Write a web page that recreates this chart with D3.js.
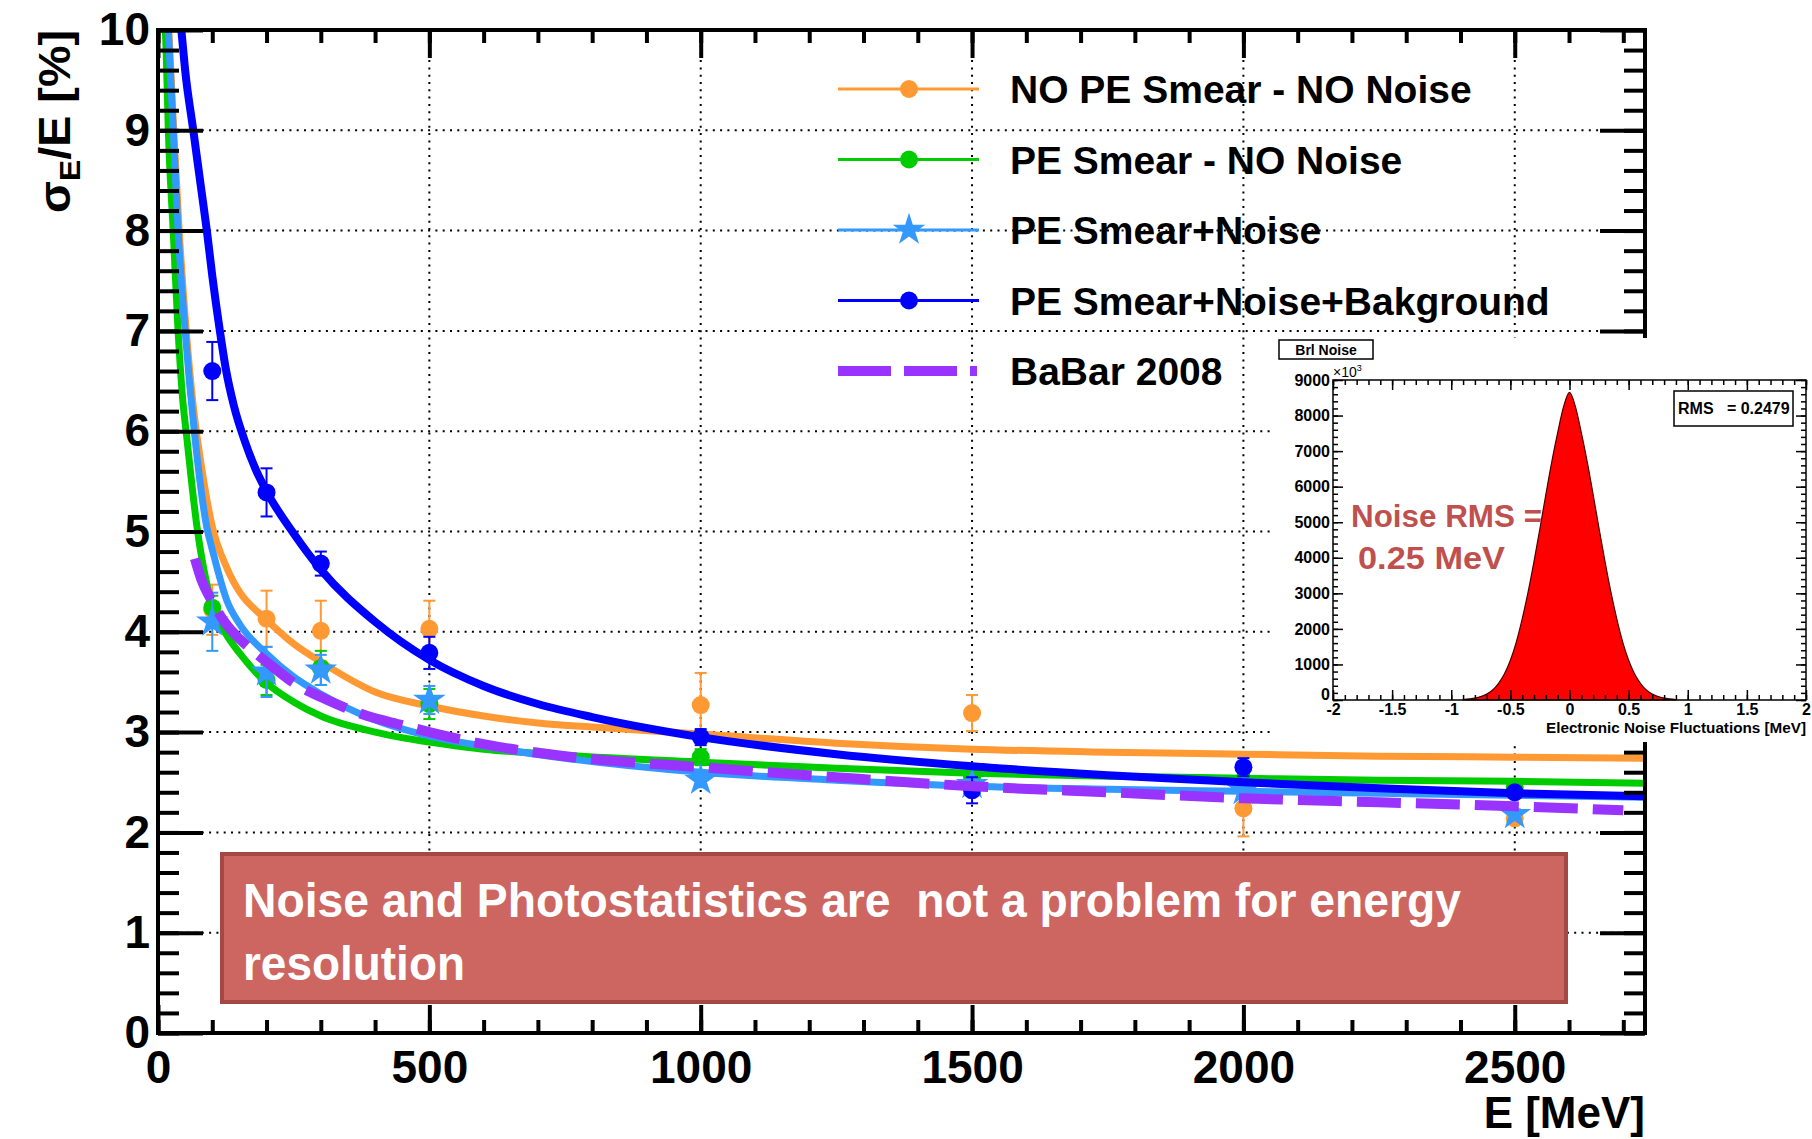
<!DOCTYPE html>
<html>
<head>
<meta charset="utf-8">
<script src="https://cdn.jsdelivr.net/npm/d3@7"></script>
<style>
body { margin: 0; background: #fff; }
text { font-family: "Liberation Sans", Arial, sans-serif; }
</style>
</head>
<body>
<div id="chart"></div>
<script>
// ---- data ----
var energies = [100, 200, 300, 500, 1000, 1500, 2000, 2500];

var noSmearVal = [4.22, 4.13, 4.01, 4.03, 3.27, 3.19, 2.24, 2.14];
var noSmearErr = [0.25, 0.28, 0.30, 0.28, 0.32, 0.18, 0.28, 0.05];
var smearVal   = [4.24, 3.52, 3.64, 3.28, 2.75, 2.55, 2.52, 2.45];
var smearErr   = [0.12, 0.15, 0.17, 0.15, 0.08, 0.06, 0.06, 0.05];
var noiseVal   = [4.10, 3.60, 3.62, 3.32, 2.52, 2.48, 2.42, 2.18];
var noiseErr   = [0.29, 0.25, 0.15, 0.14, 0.07, 0.06, 0.06, 0.05];
var bkgVal     = [6.60, 5.39, 4.68, 3.79, 2.95, 2.42, 2.65, 2.40];
var bkgErr     = [0.29, 0.24, 0.12, 0.16, 0.08, 0.13, 0.09, 0.05];

// fitted curves
var noSmearFitE = [20, 29, 39, 52, 66, 80, 100, 125, 139, 150, 200, 250, 300, 400, 500, 600, 700, 800, 1000, 1250, 1500, 1750, 2000, 2250, 2500, 2740];
var noSmearFitV = [10.0, 9.0, 8.0, 7.0, 6.2, 5.65, 5.05, 4.66, 4.5, 4.4, 4.12, 3.88, 3.70, 3.40, 3.26, 3.16, 3.09, 3.05, 2.98, 2.89, 2.83, 2.80, 2.78, 2.76, 2.75, 2.74];
var smearFitE = [12, 15, 19, 28, 37, 45, 53, 72, 100, 125, 150, 200, 250, 300, 400, 500, 600, 750, 1000, 1250, 1500, 1750, 2000, 2250, 2500, 2740];
var smearFitV = [10.2, 9.8, 9.0, 8.0, 7.0, 6.35, 5.94, 5.04, 4.26, 3.98, 3.79, 3.49, 3.30, 3.16, 3.00, 2.90, 2.83, 2.77, 2.70, 2.64, 2.59, 2.56, 2.54, 2.52, 2.51, 2.49];
var noiseFitE = [19, 28, 37, 50, 68, 90, 100, 127, 150, 200, 250, 300, 400, 500, 600, 750, 1000, 1250, 1500, 1750, 2000, 2250, 2500, 2740];
var noiseFitV = [10.0, 9.0, 8.0, 7.0, 5.94, 5.04, 4.82, 4.31, 4.08, 3.78, 3.55, 3.38, 3.12, 2.96, 2.86, 2.74, 2.60, 2.52, 2.46, 2.43, 2.41, 2.39, 2.37, 2.35];
var bkgFitE = [43, 50, 65, 80, 90, 100, 114, 125, 140, 160, 180, 200, 250, 300, 400, 500, 600, 700, 800, 1000, 1250, 1500, 1750, 2000, 2250, 2500, 2740];
var bkgFitV = [10.0, 9.6, 9.0, 8.4, 8.0, 7.55, 7.0, 6.62, 6.25, 5.9, 5.62, 5.4, 4.98, 4.62, 4.10, 3.72, 3.46, 3.28, 3.15, 2.95, 2.78, 2.66, 2.57, 2.50, 2.44, 2.39, 2.36];
var babarE = [68, 80, 100, 125, 150, 175, 200, 262, 300, 386, 450, 500, 600, 750, 1000, 1250, 1500, 1750, 2000, 2250, 2500, 2700];
var babarV = [4.73, 4.52, 4.30, 4.08, 3.93, 3.81, 3.70, 3.45, 3.35, 3.16, 3.07, 3.00, 2.88, 2.76, 2.65, 2.55, 2.46, 2.40, 2.34, 2.30, 2.26, 2.22];

var legendLabels = ['NO PE Smear - NO Noise', 'PE Smear - NO Noise', 'PE Smear+Noise', 'PE Smear+Noise+Bakground', 'BaBar 2008'];

var xTickVals = [0, 500, 1000, 1500, 2000, 2500];
var yTickVals = [0, 1, 2, 3, 4, 5, 6, 7, 8, 9, 10];

// inset histogram (noise fluctuations, counts x10^3)
var histX = [-0.90, -0.85, -0.80, -0.75, -0.70, -0.65, -0.60, -0.55, -0.50, -0.45, -0.40, -0.35, -0.30, -0.25, -0.20, -0.15, -0.10, -0.05, 0.00,
             0.05, 0.10, 0.15, 0.20, 0.25, 0.30, 0.35, 0.40, 0.45, 0.50, 0.55, 0.60, 0.65, 0.70, 0.75, 0.80, 0.85, 0.90];
var histY = [10, 30, 55, 95, 165, 280, 470, 740, 1120, 1630, 2280, 3040, 3900, 4820, 5780, 6700, 7520, 8250, 8650,
             8250, 7520, 6700, 5780, 4820, 3900, 3040, 2280, 1630, 1120, 740, 470, 280, 165, 95, 55, 30, 10];
var insetXTicks = [-2, -1.5, -1, -0.5, 0, 0.5, 1, 1.5, 2];
var insetYTicks = [0, 1000, 2000, 3000, 4000, 5000, 6000, 7000, 8000, 9000];

// ---- chart ----
var W = 1812, H = 1139;
var font = '"Liberation Sans", Arial, sans-serif';
var calibri = 'Carlito, Lato, "Open Sans", sans-serif';

var svg = d3.select('#chart').append('svg')
    .attr('width', W)
    .attr('height', H);

var x = d3.scaleLinear().domain([0, 2740]).range([158, 1645]);
var y = d3.scaleLinear().domain([0, 10]).range([1033, 30]);

// dotted grid
var grid = svg.append('g')
    .attr('stroke', '#000')
    .attr('stroke-width', 2)
    .attr('stroke-dasharray', '2,5.3');
grid.selectAll('.gx').data(xTickVals.filter(function(d){ return d > 0; }))
    .enter().append('line')
    .attr('x1', function(d){ return x(d); }).attr('x2', function(d){ return x(d); })
    .attr('y1', y(0)).attr('y2', y(10));
grid.selectAll('.gy').data(yTickVals.filter(function(d){ return d > 0 && d < 10; }))
    .enter().append('line')
    .attr('y1', function(d){ return y(d); }).attr('y2', function(d){ return y(d); })
    .attr('x1', x(0)).attr('x2', x(2740));

svg.append('clipPath').attr('id', 'plotclip')
    .append('rect')
    .attr('x', x(0)).attr('y', y(10))
    .attr('width', x(2740) - x(0)).attr('height', y(0) - y(10));

var plot = svg.append('g').attr('clip-path', 'url(#plotclip)');

var line = d3.line()
    .x(function(d){ return x(d[0]); })
    .y(function(d){ return y(d[1]); })
    .curve(d3.curveMonotoneX);

var series = [
    {E: noSmearFitE, V: noSmearFitV, pv: noSmearVal, pe: noSmearErr, color: '#ff9933', width: 7, marker: 'circle'},
    {E: smearFitE,   V: smearFitV,   pv: smearVal,   pe: smearErr,   color: '#00cc00', width: 7, marker: 'circle'},
    {E: noiseFitE,   V: noiseFitV,   pv: noiseVal,   pe: noiseErr,   color: '#3399ff', width: 7, marker: 'star'},
    {E: bkgFitE,     V: bkgFitV,     pv: bkgVal,     pe: bkgErr,     color: '#0000ff', width: 8, marker: 'circle'}
];

series.forEach(function(s){
    var pts = s.E.map(function(e, i){ return [e, s.V[i]]; });
    plot.append('path')
        .attr('d', line(pts))
        .attr('fill', 'none')
        .attr('stroke', s.color)
        .attr('stroke-width', s.width);

    var g = plot.append('g');
    var pdata = energies.map(function(e, i){ return {e: e, v: s.pv[i], err: s.pe[i]}; });
    var eb = g.selectAll('.eb').data(pdata).enter().append('g')
        .attr('stroke', s.color).attr('stroke-width', 2);
    eb.append('line')
        .attr('x1', function(d){ return x(d.e); }).attr('x2', function(d){ return x(d.e); })
        .attr('y1', function(d){ return y(d.v - d.err); }).attr('y2', function(d){ return y(d.v + d.err); });
    eb.append('line')
        .attr('x1', function(d){ return x(d.e) - 6; }).attr('x2', function(d){ return x(d.e) + 6; })
        .attr('y1', function(d){ return y(d.v - d.err); }).attr('y2', function(d){ return y(d.v - d.err); });
    eb.append('line')
        .attr('x1', function(d){ return x(d.e) - 6; }).attr('x2', function(d){ return x(d.e) + 6; })
        .attr('y1', function(d){ return y(d.v + d.err); }).attr('y2', function(d){ return y(d.v + d.err); });

    if (s.marker === 'circle') {
        g.selectAll('.mk').data(pdata).enter().append('circle')
            .attr('cx', function(d){ return x(d.e); })
            .attr('cy', function(d){ return y(d.v); })
            .attr('r', 9)
            .attr('fill', s.color);
    } else {
        g.selectAll('.mk').data(pdata).enter().append('path')
            .attr('d', d3.symbol().type(d3.symbolStar).size(330))
            .attr('transform', function(d){ return 'translate(' + x(d.e) + ',' + y(d.v) + ')'; })
            .attr('fill', s.color);
    }
});

// BaBar 2008 dashed curve
plot.append('path')
    .attr('d', line(babarE.map(function(e, i){ return [e, babarV[i]]; })))
    .attr('fill', 'none')
    .attr('stroke', '#9933ff')
    .attr('stroke-width', 10)
    .attr('stroke-dasharray', '44,15');

// axes
function styleAxis(g, lw) {
    g.select('.domain').remove();
    g.selectAll('line').attr('stroke', '#000').attr('stroke-width', lw);
    g.selectAll('text')
        .attr('font-family', font)
        .attr('font-weight', 'bold')
        .attr('font-size', 46)
        .attr('fill', '#000');
}

svg.append('g').attr('transform', 'translate(0,' + y(0) + ')')
    .call(d3.axisBottom(x).tickValues(d3.range(0, 2741, 100)).tickSize(-13).tickFormat(''))
    .call(styleAxis, 4);
svg.append('g').attr('transform', 'translate(0,' + y(0) + ')')
    .call(d3.axisBottom(x).tickValues(xTickVals).tickSize(-28).tickPadding(17).tickFormat(d3.format('d')))
    .call(styleAxis, 4);
svg.append('g').attr('transform', 'translate(0,' + y(10) + ')')
    .call(d3.axisTop(x).tickValues(d3.range(0, 2741, 100)).tickSize(-13).tickFormat(''))
    .call(styleAxis, 4);
svg.append('g').attr('transform', 'translate(0,' + y(10) + ')')
    .call(d3.axisTop(x).tickValues(xTickVals).tickSize(-28).tickFormat(''))
    .call(styleAxis, 4);

svg.append('g').attr('transform', 'translate(' + x(0) + ',0)')
    .call(d3.axisLeft(y).tickValues(d3.range(0, 10.01, 0.2)).tickSize(-21).tickFormat(''))
    .call(styleAxis, 4);
svg.append('g').attr('transform', 'translate(' + x(0) + ',0)')
    .call(d3.axisLeft(y).tickValues(yTickVals).tickSize(-45).tickPadding(8).tickFormat(d3.format('d')))
    .call(styleAxis, 4);
svg.append('g').attr('transform', 'translate(' + x(2740) + ',0)')
    .call(d3.axisRight(y).tickValues(d3.range(0, 10.01, 0.2)).tickSize(-21).tickFormat(''))
    .call(styleAxis, 4);
svg.append('g').attr('transform', 'translate(' + x(2740) + ',0)')
    .call(d3.axisRight(y).tickValues(yTickVals).tickSize(-45).tickFormat(''))
    .call(styleAxis, 4);

svg.append('rect')
    .attr('x', x(0)).attr('y', y(10))
    .attr('width', x(2740) - x(0)).attr('height', y(0) - y(10))
    .attr('fill', 'none').attr('stroke', '#000').attr('stroke-width', 4);

// axis titles
svg.append('text')
    .attr('x', x(2740)).attr('y', 1128)
    .attr('text-anchor', 'end')
    .attr('font-weight', 'bold').attr('font-size', 44)
    .text('E [MeV]');

var yt = svg.append('text')
    .attr('transform', 'translate(70,' + y(10) + ') rotate(-90)')
    .attr('text-anchor', 'end')
    .attr('font-weight', 'bold').attr('font-size', 44)
    .attr('textLength', 183).attr('lengthAdjust', 'spacingAndGlyphs');
yt.append('tspan').text('σ');
yt.append('tspan').attr('font-size', 30).attr('dy', 10).text('E');
yt.append('tspan').attr('dy', -10).text('/E [%]');

// legend
var legendColors = ['#ff9933', '#00cc00', '#3399ff', '#0000ff', '#9933ff'];
var legend = svg.append('g');
var rows = legend.selectAll('.row').data(legendLabels).enter().append('g')
    .attr('transform', function(d, i){ return 'translate(0,' + (89 + i * 70.5) + ')'; });
rows.append('text')
    .attr('x', 1010).attr('y', 14)
    .attr('font-weight', 'bold').attr('font-size', 39)
    .attr('fill', '#000')
    .text(function(d){ return d; });
rows.filter(function(d, i){ return i < 4; }).append('line')
    .attr('x1', 838).attr('x2', 979)
    .attr('stroke', function(d, i){ return legendColors[i]; })
    .attr('stroke-width', 3);
rows.filter(function(d, i){ return i !== 2 && i < 4; }).append('circle')
    .attr('cx', 909).attr('r', 9)
    .attr('fill', function(d){ return legendColors[legendLabels.indexOf(d)]; });
rows.filter(function(d, i){ return i === 2; }).append('path')
    .attr('d', d3.symbol().type(d3.symbolStar).size(330))
    .attr('transform', 'translate(909,0)')
    .attr('fill', legendColors[2]);
rows.filter(function(d, i){ return i === 4; }).append('line')
    .attr('x1', 838).attr('x2', 977)
    .attr('stroke', legendColors[4])
    .attr('stroke-width', 10)
    .attr('stroke-dasharray', '53,13');

// annotation box
svg.append('rect')
    .attr('x', 222).attr('y', 854)
    .attr('width', 1344).attr('height', 148)
    .attr('fill', '#cd6661')
    .attr('stroke', '#a34843').attr('stroke-width', 4);
svg.append('text')
    .attr('x', 243).attr('y', 917)
    .attr('fill', '#fff')
    .attr('font-family', calibri).attr('font-weight', 'bold').attr('font-size', 48)
    .attr('textLength', 1218).attr('lengthAdjust', 'spacingAndGlyphs')
    .style('white-space', 'pre')
    .text('Noise and Photostatistics are  not a problem for energy');
svg.append('text')
    .attr('x', 243).attr('y', 980)
    .attr('fill', '#fff')
    .attr('font-family', calibri).attr('font-weight', 'bold').attr('font-size', 48)
    .attr('textLength', 222).attr('lengthAdjust', 'spacingAndGlyphs')
    .text('resolution');

// ---- inset histogram ----
var ix = d3.scaleLinear().domain([-2, 2]).range([1333, 1806]);
var iy = d3.scaleLinear().domain([0, 9000]).range([700, 380]);

var inset = svg.append('g');
inset.append('rect')
    .attr('x', 1271).attr('y', 338)
    .attr('width', W - 1271).attr('height', 404)
    .attr('fill', '#fff');

var area = d3.area()
    .x(function(d){ return ix(d[0]); })
    .y0(iy(0))
    .y1(function(d){ return iy(d[1]); })
    .curve(d3.curveMonotoneX);
inset.append('path')
    .attr('d', area(histX.map(function(v, i){ return [v, histY[i]]; })))
    .attr('fill', '#ff0000')
    .attr('stroke', '#4a0000').attr('stroke-width', 1.2);

function styleInset(g) {
    g.select('.domain').remove();
    g.selectAll('line').attr('stroke', '#000').attr('stroke-width', 1.5);
    g.selectAll('text')
        .attr('font-family', font)
        .attr('font-weight', 'bold')
        .attr('font-size', 16)
        .attr('fill', '#000');
}
var fmt = function(d){ return String(d); };
inset.append('g').attr('transform', 'translate(0,' + iy(0) + ')')
    .call(d3.axisBottom(ix).tickValues(d3.range(-20, 21).map(function(k){ return k / 10; })).tickSize(-5).tickFormat(''))
    .call(styleInset);
inset.append('g').attr('transform', 'translate(0,' + iy(0) + ')')
    .call(d3.axisBottom(ix).tickValues(insetXTicks).tickSize(-10).tickPadding(4).tickFormat(fmt))
    .call(styleInset);
inset.append('g').attr('transform', 'translate(0,' + iy(9000) + ')')
    .call(d3.axisTop(ix).tickValues(d3.range(-20, 21).map(function(k){ return k / 10; })).tickSize(-5).tickFormat(''))
    .call(styleInset);
inset.append('g').attr('transform', 'translate(0,' + iy(9000) + ')')
    .call(d3.axisTop(ix).tickValues(insetXTicks).tickSize(-10).tickFormat(''))
    .call(styleInset);
inset.append('g').attr('transform', 'translate(' + ix(-2) + ',0)')
    .call(d3.axisLeft(iy).tickValues(d3.range(0, 9001, 200)).tickSize(-5).tickFormat(''))
    .call(styleInset);
var iyAxis = inset.append('g').attr('transform', 'translate(' + ix(-2) + ',0)')
    .call(d3.axisLeft(iy).tickValues(insetYTicks).tickSize(-10).tickPadding(3).tickFormat(fmt))
    .call(styleInset);
// the "0" label sits in the corner, just above the x labels
iyAxis.selectAll('text').filter(function(d){ return d === 0; }).attr('dy', '-0.05em');
inset.append('g').attr('transform', 'translate(' + ix(2) + ',0)')
    .call(d3.axisRight(iy).tickValues(d3.range(0, 9001, 200)).tickSize(-5).tickFormat(''))
    .call(styleInset);
inset.append('g').attr('transform', 'translate(' + ix(2) + ',0)')
    .call(d3.axisRight(iy).tickValues(insetYTicks).tickSize(-10).tickFormat(''))
    .call(styleInset);

inset.append('rect')
    .attr('x', ix(-2)).attr('y', iy(9000))
    .attr('width', ix(2) - ix(-2)).attr('height', iy(0) - iy(9000))
    .attr('fill', 'none').attr('stroke', '#000').attr('stroke-width', 1.5);

var exp = inset.append('text')
    .attr('x', 1333).attr('y', 377)
    .attr('font-size', 14);
exp.append('tspan').text('×10');
exp.append('tspan').attr('font-size', 9).attr('dy', -6).text('3');

inset.append('rect')
    .attr('x', 1279).attr('y', 340).attr('width', 94).attr('height', 19)
    .attr('fill', '#fff').attr('stroke', '#000').attr('stroke-width', 1.5);
inset.append('text')
    .attr('x', 1326).attr('y', 355)
    .attr('text-anchor', 'middle')
    .attr('font-weight', 'bold').attr('font-size', 14)
    .text('Brl Noise');

inset.append('rect')
    .attr('x', 1674).attr('y', 391).attr('width', 119).attr('height', 35)
    .attr('fill', '#fff').attr('stroke', '#000').attr('stroke-width', 1.5);
inset.append('text')
    .attr('x', 1678).attr('y', 414)
    .attr('font-weight', 'bold').attr('font-size', 16)
    .style('white-space', 'pre')
    .text('RMS   = 0.2479');

inset.append('text')
    .attr('x', 1806).attr('y', 733)
    .attr('text-anchor', 'end')
    .attr('font-weight', 'bold').attr('font-size', 14)
    .attr('textLength', 260).attr('lengthAdjust', 'spacingAndGlyphs')
    .text('Electronic Noise Fluctuations [MeV]');

inset.append('text')
    .attr('x', 1351).attr('y', 527)
    .attr('fill', '#c0504d')
    .attr('font-family', calibri).attr('font-weight', 'bold').attr('font-size', 31)
    .attr('textLength', 191).attr('lengthAdjust', 'spacingAndGlyphs')
    .text('Noise RMS =');
inset.append('text')
    .attr('x', 1358).attr('y', 569)
    .attr('fill', '#c0504d')
    .attr('font-family', calibri).attr('font-weight', 'bold').attr('font-size', 31)
    .attr('textLength', 147).attr('lengthAdjust', 'spacingAndGlyphs')
    .text('0.25 MeV');
</script>
</body>
</html>
